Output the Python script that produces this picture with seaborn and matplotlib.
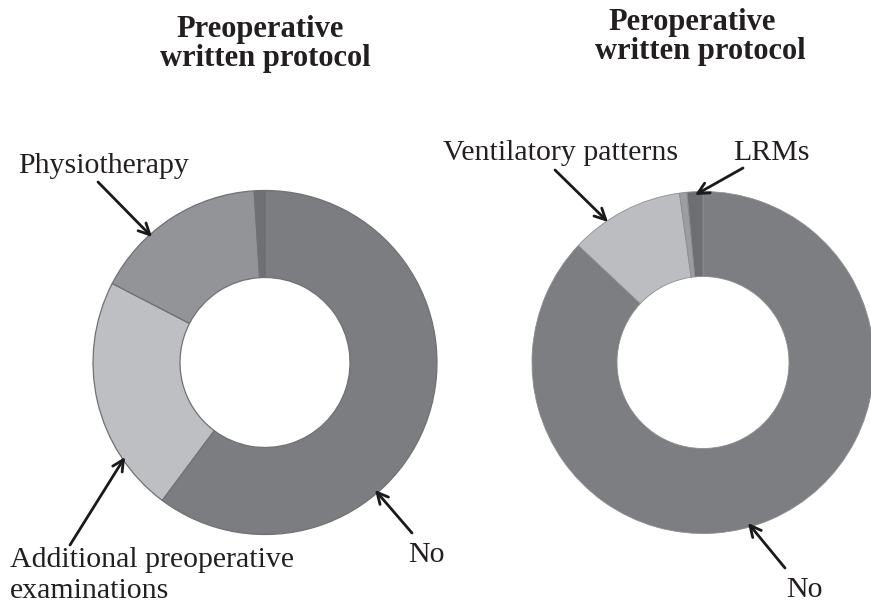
import matplotlib
matplotlib.use('Agg')
import matplotlib.pyplot as plt
import seaborn as sns

# data (clockwise from 12 o'clock)
pre_labels = ['No', 'Additional preoperative examinations', 'Physiotherapy', 'Other']
pre_values = [60.2, 22.4, 16.4, 1.0]
pre_colors = ['#7c7d81', '#bebfc3', '#939498', '#6f7074']

per_labels = ['No', 'Ventilatory patterns', 'Other', 'LRMs']
per_values = [87.0, 10.8, 0.7, 1.5]
per_colors = ['#7d7e82', '#bcbdc1', '#9c9da1', '#6d6e72']

titles = ['Preoperative\nwritten protocol', 'Peroperative\nwritten protocol']

sns.set_theme(style='white')
plt.rcParams['font.family'] = ['Liberation Serif', 'DejaVu Serif']

W, H = 871, 604
fig = plt.figure(figsize=(W / 100, H / 100), dpi=100)
ax = fig.add_axes([0, 0, 1, 1])
ax.set_xlim(0, W)
ax.set_ylim(0, H)
ax.set_aspect('equal')
ax.axis('off')


def py(y):
    # pixel row -> data y
    return H - y


# donuts
ax.pie(pre_values, colors=pre_colors, startangle=90, counterclock=False,
       center=(265, py(362.5)), radius=172,
       wedgeprops=dict(width=87, edgecolor='#707175', linewidth=0.9))
ax.pie(per_values, colors=per_colors, startangle=90, counterclock=False,
       center=(703, py(362.5)), radius=171,
       wedgeprops=dict(width=85, edgecolor='#8c8d91', linewidth=0.6))
ax.set_xlim(0, W)
ax.set_ylim(0, H)

# titles
tkw = dict(ha='center', va='baseline', fontsize=22, fontweight='bold', color='#231f20')
ax.text(260, py(37), titles[0].split('\n')[0], **tkw)
ax.text(265, py(66), titles[0].split('\n')[1], **tkw)
ax.text(692, py(30), titles[1].split('\n')[0], **tkw)
ax.text(700, py(59), titles[1].split('\n')[1], **tkw)

# labels
lkw = dict(ha='left', va='baseline', fontsize=21.5, color='#231f20')
ax.text(18, py(173), pre_labels[2], **lkw)
ax.text(10, py(567), 'Additional preoperative', **lkw)
ax.text(10, py(598), 'examinations', **lkw)
ax.text(408, py(562), pre_labels[0], **lkw)
ax.text(443, py(160), per_labels[1], **lkw)
ax.text(733, py(160), per_labels[3], **lkw)
ax.text(786, py(597), per_labels[0], **lkw)

# arrows (tail -> head)
arrows = [((98, 182), (152, 237)),
          ((70, 545), (125, 457)),
          ((412, 533), (375, 490)),
          ((555, 170), (608, 222)),
          ((743, 168), (695, 195)),
          ((785, 568), (748, 523))]
for (x0, y0), (x1, y1) in arrows:
    ax.annotate('', xy=(x1, py(y1)), xytext=(x0, py(y0)),
                arrowprops=dict(arrowstyle='->', color='#1a1a1a', lw=2.0,
                                mutation_scale=20, shrinkA=0, shrinkB=0))

fig.savefig('out.png', dpi=100)
